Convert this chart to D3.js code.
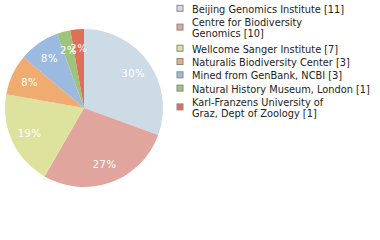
<!DOCTYPE html>
<html>
<head>
<meta charset="utf-8">
<script src="https://cdn.jsdelivr.net/npm/d3@7"></script>
<style>
  body { margin: 0; background: #fff; }
  svg text { font-family: "DejaVu Sans", Verdana, sans-serif; }
</style>
</head>
<body>
<div id="chart"></div>
<script>
// Data
const categories = [
    "Beijing Genomics Institute",
    "Centre for Biodiversity Genomics",
    "Wellcome Sanger Institute",
    "Naturalis Biodiversity Center",
    "Mined from GenBank, NCBI",
    "Natural History Museum, London",
    "Karl-Franzens University of Graz, Dept of Zoology"
];
const counts = [11, 10, 7, 3, 3, 1, 1];
const legendLines = [
    ["Beijing Genomics Institute [11]"],
    ["Centre for Biodiversity", "Genomics [10]"],
    ["Wellcome Sanger Institute [7]"],
    ["Naturalis Biodiversity Center [3]"],
    ["Mined from GenBank, NCBI [3]"],
    ["Natural History Museum, London [1]"],
    ["Karl-Franzens University of", "Graz, Dept of Zoology [1]"]
];
const colors = ["#cddbe7", "#e0a59d", "#dde29d", "#f0ac70", "#9cbae0", "#9dc47c", "#de7058"];

const width = 380, height = 240;
const cx = 84, cy = 108, radius = 79;

const svg = d3.select("#chart")
    .append("svg")
    .attr("width", width)
    .attr("height", height);

const total = d3.sum(counts);
const data = counts.map((v, i) => ({ name: categories[i], value: v, color: colors[i], lines: legendLines[i] }));

const pie = d3.pie().value(d => d.value).sort(null);
const arc = d3.arc().innerRadius(0).outerRadius(radius);
const labelArc = d3.arc().innerRadius(radius * 0.76).outerRadius(radius * 0.76);

const g = svg.append("g").attr("transform", `translate(${cx},${cy})`);

const arcs = pie(data);

g.selectAll("path")
    .data(arcs)
    .enter()
    .append("path")
    .attr("d", arc)
    .attr("fill", d => d.data.color);

g.selectAll("text")
    .data(arcs)
    .enter()
    .append("text")
    .attr("transform", d => `translate(${labelArc.centroid(d)})`)
    .attr("text-anchor", "middle")
    .attr("dy", "0.35em")
    .attr("fill", "#fff")
    .style("font-size", "10px")
    .style("letter-spacing", "0.5px")
    .text(d => Math.floor(d.data.value / total * 100) + "%");

// Legend
const legend = svg.append("g");
const lineGap = 11, itemGap = 13.3, wrapExtra = 2.3;
let y = 9.3;
data.forEach(d => {
    const n = d.lines.length;
    const mid = y + (n - 1) * lineGap / 2 - 1;
    legend.append("rect")
        .attr("x", 177)
        .attr("y", mid - 3)
        .attr("width", 6)
        .attr("height", 6)
        .attr("fill", d.color)
        .attr("stroke", "#888")
        .attr("stroke-width", 1);
    d.lines.forEach((line, j) => {
        legend.append("text")
            .attr("x", 192)
            .attr("y", y + j * lineGap)
            .attr("dy", "0.35em")
            .attr("fill", "#222")
            .style("font-size", "9.8px")
            .text(line);
    });
    y += (n - 1) * (lineGap + wrapExtra) + itemGap;
});
</script>
</body>
</html>
